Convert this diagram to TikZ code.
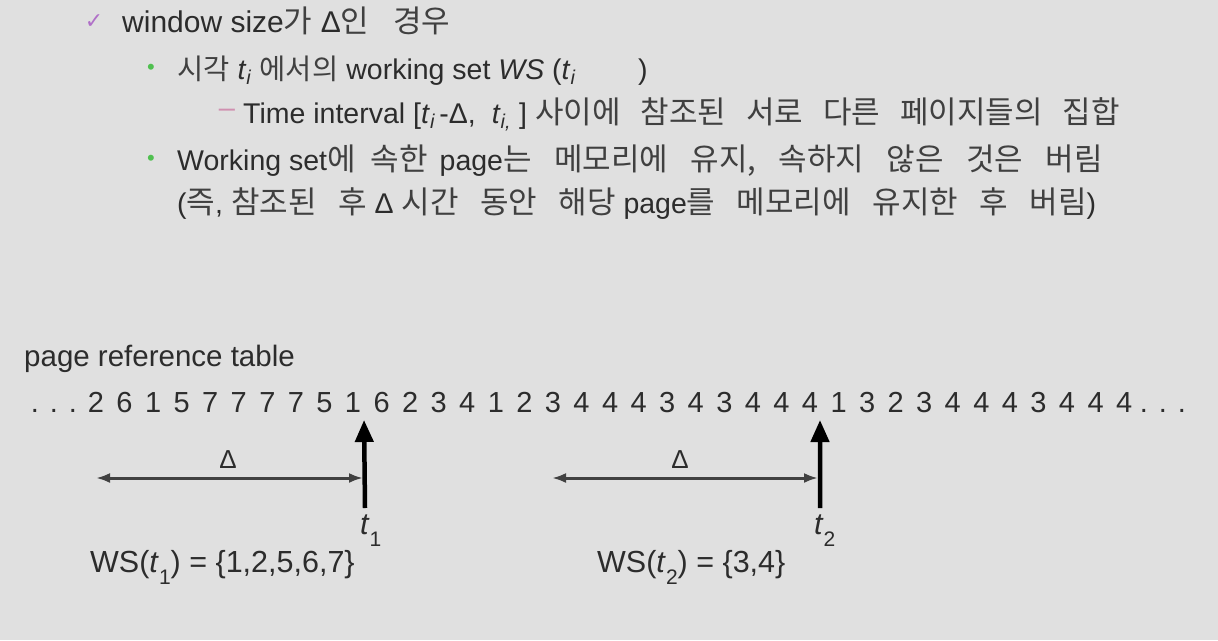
\documentclass[tikz,border=0pt]{standalone}
\usepackage{fontspec}
\setmainfont{Liberation Sans}
\newfontfamily\krfont{Noto Sans CJK KR}
\newfontfamily\symfont{DejaVu Sans}
\usetikzlibrary{arrows.meta}
\def\kz{31}
\def\ks{20pt}
\newcommand\K[1]{{\krfont\fontsize{\kz}{\kz}\selectfont\spaceskip=\ks\relax\color{kink}#1}}
\newcommand\ti[1]{\textit{t}\textsubscript{\textit{#1}}}
\newcommand\tsub[1]{\textit{t}\raisebox{-0.4em}{\fontsize{21}{21}\selectfont #1}}
\definecolor{bg}{HTML}{E0E0E0}
\definecolor{ink}{HTML}{2C2C2C}
\definecolor{kink}{HTML}{404040}
\definecolor{chk}{HTML}{B070C8}
\definecolor{bul}{HTML}{50C050}
\definecolor{dsh}{HTML}{D090B0}
\tikzset{
  body/.style={anchor=base west, inner sep=0pt, text=ink, font=\fontsize{28.5}{28.5}\selectfont},
  big/.style={inner sep=0pt, text=ink, font=\fontsize{30.5}{30.5}\selectfont},
  digit/.style={inner sep=0pt, anchor=base, text=ink, font=\fontsize{29}{29}\selectfont},
  tick/.style={line width=4.5pt, black, -{Triangle[width=18pt,length=22pt]}},
  span/.style={line width=3pt, ink!90, {Latex[length=14pt,width=10pt]}-{Latex[length=14pt,width=10pt]}},
}
\begin{document}
\begin{tikzpicture}[x=1pt,y=-1pt]
\fill[bg] (0,0) rectangle (1218,640);
\useasboundingbox (0,0) rectangle (1218,640);
% header text
\node[text=chk, inner sep=0pt, font=\symfont\fontsize{22}{22}\selectfont] (chk) at (94,22) {✓};
\node[body, font=\fontsize{30}{30}\selectfont\def\kz{31}\def\ks{24pt}] (l1) at (122,32)
  {window size\K{가} Δ\K{인 경우}};
\node[text=bul, inner sep=0pt, font=\fontsize{22}{22}\selectfont] (b1) at (151,69) {•};
\node[body, font=\fontsize{28.5}{28.5}\selectfont\def\kz{28.5}] (l2) at (177,79)
  {\K{시각} \ti{i} \K{에서의} working set \textit{WS} (\ti{i}\hspace{62pt})};
\node[text=dsh, inner sep=0pt, font=\fontsize{29}{29}\selectfont] (d1) at (227,113) {–};
\node[body, font=\fontsize{28.5}{28.5}\selectfont\def\ks{20pt}] (l3) at (243,123)
  {Time interval [\ti{i}\hspace{4pt}-Δ,\hspace{16pt}\ti{i,}\hspace{8pt}] \K{사이에 참조된 서로 다른 페이지들의 집합}};
\node[text=bul, inner sep=0pt, font=\fontsize{22}{22}\selectfont] (b2) at (151,160) {•};
\node[body, font=\fontsize{28.5}{28.5}\selectfont\def\ks{22.5pt}] (l4) at (177,170)
  {Working set\K{에}\hspace{15pt}\K{속한}\hspace{12pt}page\K{는 메모리에 유지, 속하지 않은 것은 버림}};
\node[body, font=\fontsize{28.5}{28.5}\selectfont\def\ks{21.5pt}] (l5) at (177,213)
  {(\K{즉}, \K{참조된 후} Δ \K{시간 동안 해당} page\K{를 메모리에 유지한 후 버림})};
% table
\node[body, font=\fontsize{29.5}{29.5}\selectfont] (prt) at (24,366) {page reference table};
\foreach \x [count=\j] in {35,54,73,1144,1163,1182} \node[digit] (dot\j) at (\x,412) {.};
\foreach \v [count=\i from 0] in {2,6,1,5,7,7,7,7,5,1,6,2,3,4,1,2,3,4,4,4,3,4,3,4,4,4,1,3,2,3,4,4,4,3,4,4,4}
  \node[digit] (d\i) at (96+\i*28.56,412) {\v};
% window t1
\coordinate (t1top) at ([xshift=11pt]d9.south);
\coordinate (t1bot) at (365,508);
\coordinate (a1l) at (96,478);
\coordinate (a1r) at (363,478);
\draw[tick] (t1bot) -- (t1top |- 0,420);
\draw[span] (a1l) -- (a1r);
\node[big, font=\fontsize{26}{26}\selectfont] (del1) at (228,460) {Δ};
\node[big, anchor=base west] (lt1) at (360,534) {\tsub{1}};
\node[big, anchor=base west] (ws1) at (90,572) {WS(\tsub{1}) = \{1,2,5,6,7\}};
% window t2
\coordinate (t2top) at ([xshift=10pt]d25.south);
\coordinate (t2bot) at (820,508);
\coordinate (a2l) at (552,478);
\coordinate (a2r) at (818,478);
\draw[tick] (t2bot) -- (t2top |- 0,420);
\draw[span] (a2l) -- (a2r);
\node[big, font=\fontsize{26}{26}\selectfont] (del2) at (680,460) {Δ};
\node[big, anchor=base west] (lt2) at (814,534) {\tsub{2}};
\node[big, anchor=base west] (ws2) at (597,572) {WS(\tsub{2}) = \{3,4\}};
\end{tikzpicture}
\end{document}
